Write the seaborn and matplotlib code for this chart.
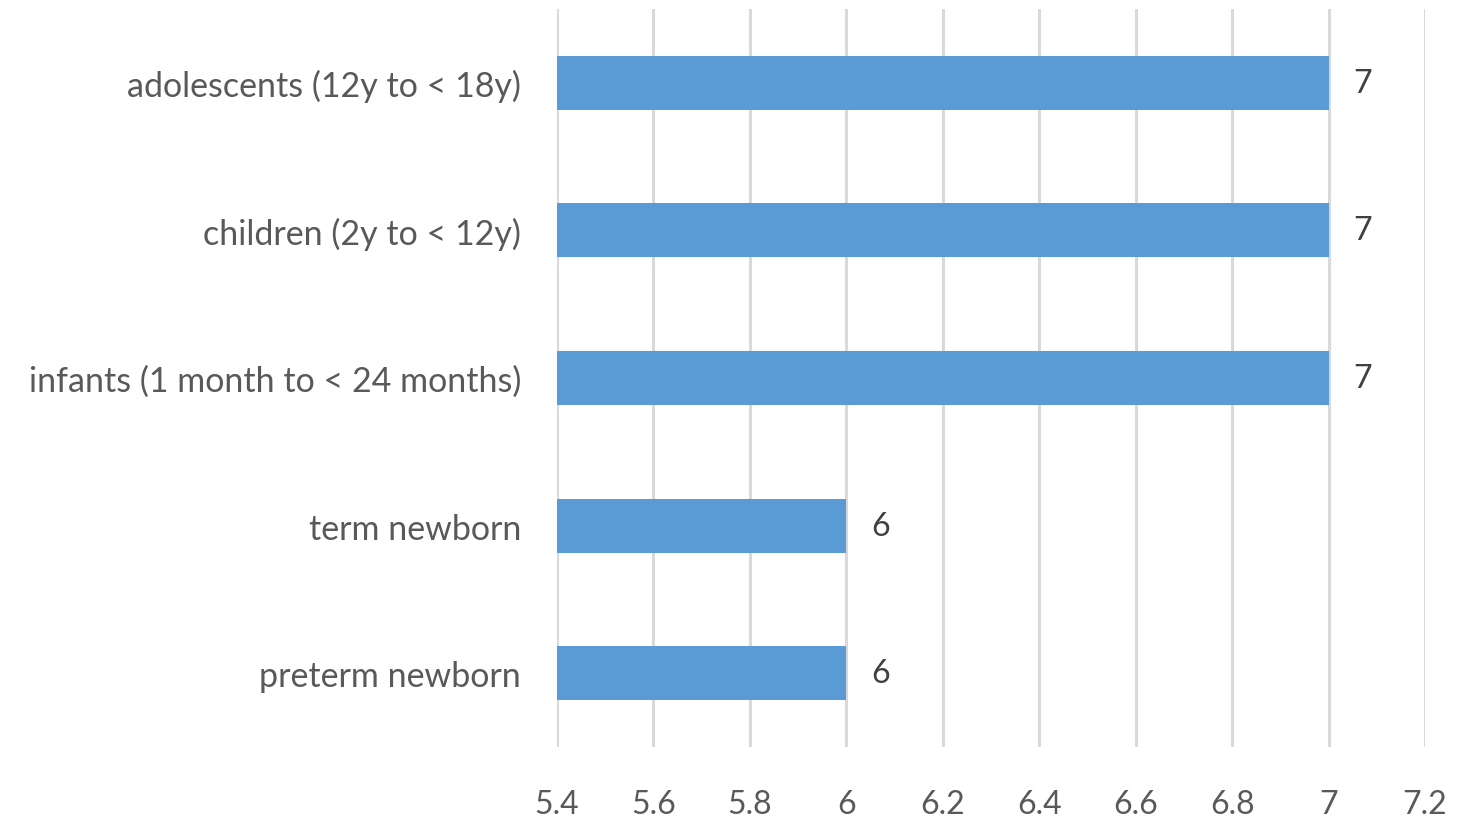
import matplotlib
matplotlib.use("Agg")
import matplotlib.pyplot as plt
import seaborn as sns
import pandas as pd

categories = ["adolescents (12y to < 18y)", "children (2y to < 12y)",
              "infants (1 month to < 24 months)", "term newborn", "preterm newborn"]
values = [7, 7, 7, 6, 6]
xticks = [5.4, 5.6, 5.8, 6.0, 6.2, 6.4, 6.6, 6.8, 7.0, 7.2]
xtick_labels = ["5.4", "5.6", "5.8", "6", "6.2", "6.4", "6.6", "6.8", "7", "7.2"]

sns.set_theme(style="white")
plt.rcParams['font.family'] = ['Lato', 'DejaVu Sans']

df = pd.DataFrame({"category": categories, "value": values})

fig = plt.figure(figsize=(14.59, 8.2), dpi=100)
ax = fig.add_axes([557/1459, 1-748/820, (1425-557)/1459, (748-10)/820])

sns.barplot(data=df, x="value", y="category", orient="h", color="#5B9BD5",
            saturation=1, width=0.366, ax=ax, zorder=3, linewidth=0)

ax.set_xlim(5.4, 7.2)
ax.set_ylim(4.5, -0.5)
ax.set_xticks(xticks)
ax.set_xticklabels(xtick_labels)
ax.grid(axis="x", color="#D9D9D9", linewidth=2.2, zorder=0)
ax.grid(axis="y", visible=False)
for s in ax.spines.values():
    s.set_visible(False)
ax.set_xlabel("")
ax.set_ylabel("")
ax.tick_params(axis="x", length=0, pad=30, labelsize=23, labelcolor="#595959")
ax.tick_params(axis="y", length=0, pad=26, labelsize=24.5, labelcolor="#595959")

for c in ax.containers:
    ax.bar_label(c, labels=[f"{v:g}" for v in values], padding=18,
                 fontsize=23, color="#404040")

fig.savefig("out.png", dpi=100)
